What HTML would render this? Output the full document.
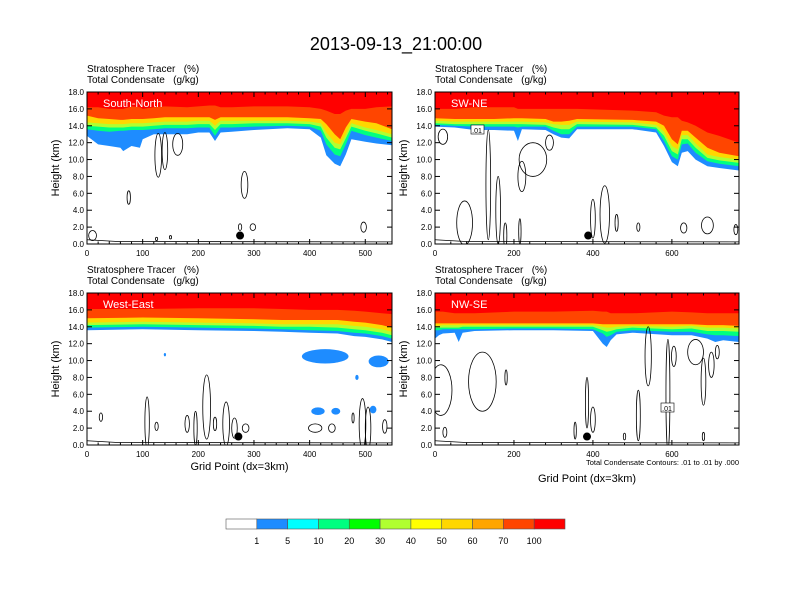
<!DOCTYPE html>
<html><head><meta charset="utf-8">
<style>
body{margin:0;background:#fff;}
svg{display:block;font-family:"Liberation Sans",Arial,sans-serif;}
</style></head>
<body>
<svg id="chart" width="792" height="612" viewBox="0 0 792 612">
<rect width="792" height="612" fill="#fff"/>
<text x="396" y="50" font-size="18" text-anchor="middle">2013-09-13_21:00:00</text>
</svg>
<script>
// ---------- data ----------
const levelColors = ["#1E8CFF","#00FF80","#B0FF30","#FFD700","#FF4500","#FF0000"];
const cbLabels = ["1","5","10","20","30","40","50","60","70","100"];
const cbColors = ["#FFFFFF","#1E8CFF","#00FFFF","#00FF80","#00FF00","#B0FF30","#FFFF00","#FFD700","#FFA500","#FF4500","#FF0000"];
const yTicks = [0,2,4,6,8,10,12,14,16,18];

// Panel 1: South-North
const p1x    = [0,20,40,60,65,80,95,100,120,140,180,200,220,230,240,260,300,360,400,420,430,445,455,465,475,500,520,548];
const p1b1   = [12.8,11.8,11.6,11.4,11.0,11.6,11.4,12.4,13.0,13.0,13.0,13.2,13.2,12.2,13.2,13.3,13.5,13.7,13.6,12.6,10.5,9.5,9.2,10.6,12.4,12.1,11.9,11.7];
const p1b10  = [13.6,13.4,13.3,13.4,13.4,13.5,13.5,13.5,13.6,13.7,13.7,13.8,13.8,12.8,13.8,13.8,13.9,14.0,13.9,13.4,11.8,10.6,10.4,11.8,13.4,12.9,12.6,12.2];
const p1b30  = [14.0,13.9,13.8,13.8,13.8,13.9,13.9,13.9,14.0,14.1,14.1,14.2,14.2,13.5,14.2,14.2,14.3,14.3,14.2,13.9,12.6,11.4,11.2,12.5,13.9,13.4,13.1,12.6];
const p1b50  = [14.4,14.3,14.2,14.2,14.2,14.3,14.3,14.3,14.4,14.5,14.5,14.6,14.6,14.0,14.6,14.6,14.6,14.6,14.5,14.3,13.2,12.0,11.8,13.0,14.3,13.8,13.5,13.0];
const p1b70  = [15.2,14.9,14.8,14.7,14.7,14.8,14.8,14.8,14.9,15.0,15.0,15.0,15.0,14.7,15.0,15.0,15.0,15.0,14.9,14.8,14.2,13.0,12.4,13.8,14.8,14.5,14.3,13.6];
const p1b100 = [16.2,16.2,16.0,16.0,16.0,16.3,16.2,16.0,16.2,16.3,16.2,16.3,16.4,16.4,16.2,16.2,16.3,16.3,16.2,16.0,15.8,15.4,15.4,15.8,16.0,16.0,16.2,16.3];

// Panel 2: SW-NE
const p2x    = [0,50,100,150,200,210,220,280,300,320,340,360,500,560,580,600,615,625,640,660,690,720,770];
const p2b1   = [13.9,13.8,13.5,13.5,13.4,12.2,13.6,13.5,13.0,12.6,12.5,13.6,13.6,13.2,11.6,9.7,9.2,10.8,11.0,10.0,9.2,9.0,8.7];
const p2b10  = [14.1,14.0,13.9,13.9,13.9,13.8,13.9,13.9,13.4,13.0,13.0,13.9,13.9,13.6,12.2,10.4,10.0,11.8,11.9,10.8,9.8,9.5,9.2];
const p2b30  = [14.3,14.2,14.2,14.2,14.2,14.2,14.2,14.1,13.8,13.6,13.6,14.2,14.1,13.8,12.8,11.0,10.6,12.4,12.4,11.4,10.2,9.9,9.6];
const p2b50  = [14.6,14.5,14.5,14.5,14.5,14.5,14.5,14.4,14.2,14.1,14.1,14.5,14.4,14.1,13.3,11.6,11.2,12.9,12.9,11.9,10.6,10.3,10.0];
const p2b70  = [14.9,14.8,14.8,14.8,14.9,14.9,14.9,14.8,14.5,14.5,14.6,14.8,14.7,14.5,14.0,12.4,11.8,13.4,13.4,12.6,11.4,10.8,10.4];
const p2b100 = [16.0,16.0,16.2,16.2,16.2,16.0,16.0,16.0,16.0,16.0,16.0,16.0,15.8,15.6,15.2,15.0,15.0,14.6,14.4,14.0,13.2,12.8,12.0];

// Panel 3: West-East
const p3x    = [0,100,200,300,350,400,450,480,500,530,548];
const p3b1   = [13.6,13.7,13.6,13.5,13.4,13.3,13.2,12.9,12.8,12.5,12.2];
const p3b10  = [13.9,14.0,13.9,13.8,13.7,13.6,13.5,13.3,13.2,12.9,12.6];
const p3b30  = [14.2,14.3,14.2,14.1,14.0,14.0,13.9,13.7,13.6,13.3,13.0];
const p3b50  = [14.5,14.6,14.5,14.4,14.3,14.3,14.3,14.1,14.0,13.7,13.4];
const p3b70  = [15.0,15.1,15.0,14.9,14.8,14.8,14.8,14.6,14.5,14.2,13.9];
const p3b100 = [16.1,16.1,16.2,16.2,16.1,16.0,16.0,15.9,15.8,15.6,15.5];

// Panel 4: NW-SE
const p4x    = [0,10,20,50,60,70,100,200,300,400,425,435,445,460,500,600,650,690,710,730,770];
const p4b1   = [12.6,13.0,13.2,13.3,12.2,13.3,13.5,13.6,13.6,13.5,12.0,11.6,12.4,13.1,13.3,13.0,13.0,12.6,12.2,12.4,12.2];
const p4b10  = [13.6,13.6,13.7,13.7,13.7,13.7,13.7,13.8,13.8,13.7,13.2,12.8,13.0,13.4,13.6,13.4,13.4,13.1,13.0,13.0,12.9];
const p4b30  = [13.9,13.9,13.9,13.9,13.9,14.0,14.0,14.0,14.0,14.0,13.6,13.4,13.5,13.7,13.9,13.7,13.8,13.5,13.5,13.5,13.4];
const p4b50  = [14.1,14.1,14.2,14.2,14.2,14.2,14.2,14.2,14.2,14.2,14.0,13.9,13.9,14.0,14.1,14.0,14.1,13.9,13.9,13.9,13.8];
const p4b70  = [14.4,14.4,14.4,14.4,14.4,14.4,14.4,14.4,14.4,14.4,14.3,14.3,14.3,14.3,14.3,14.3,14.3,14.2,14.2,14.2,14.1];
const p4b100 = [15.8,15.8,15.8,15.6,15.6,15.6,15.6,15.8,15.8,15.9,15.8,15.8,15.6,15.6,15.6,15.8,15.7,15.6,15.6,15.6,15.6];

// blue tracer blobs [x, km, rx, ry]
const p3blobs = [[428,10.5,42,0.85],[524,9.9,18,0.7],[415,4.0,12,0.45],[447,4.0,8,0.4],[514,4.2,6,0.45],[140,10.7,2,0.2],[485,8.0,3,0.3]];

// condensate contour ellipses [x, km, rx, ry]
const p1cont = [[128,10.5,6,2.6],[140,11.0,5,2.2],[163,11.8,9,1.3],[75,5.5,3,0.8],[283,7.0,6,1.6],[275,2.0,3,0.4],[298,2.0,5,0.4],[497,2.0,5,0.6],[10,1.0,7,0.6],[125,0.6,2,0.2],[150,0.8,2,0.2]];
const p2cont = [[20,12.7,12,0.9],[75,2.5,20,2.6],[135,7.0,6,6.5],[160,4.0,6,4.0],[248,10.0,35,2.0],[220,8.0,10,1.8],[290,12.0,10,0.9],[178,1.0,4,1.5],[215,1.5,3,1.5],[400,3.0,6,2.3],[430,3.5,12,3.4],[460,2.5,4,1.0],[515,2.0,4,0.5],[630,1.9,8,0.6],[690,2.2,15,1.0],[762,1.7,5,0.6]];
const p4cont = [[15,6.5,28,3.0],[120,7.5,35,3.5],[180,8.0,3,0.9],[385,5.0,4,3.0],[355,1.7,3,1.0],[400,3.0,6,1.5],[515,3.5,5,3.0],[540,10.5,8,3.5],[590,6.0,5,6.5],[605,10.5,6,1.2],[660,11.0,20,1.5],[700,9.5,7,1.5],[715,11.0,5,0.8],[680,7.5,6,2.8],[25,1.5,5,0.6],[480,1.0,3,0.4],[680,1.0,3,0.5]];
const p3cont = [[25,3.3,3,0.5],[108,2.7,4,3.0],[125,2.2,3,0.5],[180,2.5,4,1.0],[195,2.0,3,2.0],[215,4.5,7,3.8],[230,2.5,3,0.8],[250,2.5,6,2.6],[265,2.0,5,1.2],[285,2.0,6,0.5],[410,2.0,12,0.5],[440,2.0,6,0.5],[495,2.5,6,3.0],[505,2.0,5,2.5],[478,3.2,2,0.6],[535,2.2,4,0.8]];

const panels = [
 {name:"south-north",label:"South-North",x0:87,y0:92,w:305,h:152,xmax:548,xt:[0,100,200,300,400,500],xs:p1x,lv:[p1b1,p1b10,p1b30,p1b50,p1b70,p1b100],blobs:[],cont:p1cont,dot:275,xlab:false},
 {name:"sw-ne",label:"SW-NE",x0:435,y0:92,w:304,h:152,xmax:770,xt:[0,200,400,600],xs:p2x,lv:[p2b1,p2b10,p2b30,p2b50,p2b70,p2b100],blobs:[],cont:p2cont,dot:388,xlab:false},
 {name:"west-east",label:"West-East",x0:87,y0:293,w:305,h:152,xmax:548,xt:[0,100,200,300,400,500],xs:p3x,lv:[p3b1,p3b10,p3b30,p3b50,p3b70,p3b100],blobs:p3blobs,cont:p3cont,dot:272,xlab:true},
 {name:"nw-se",label:"NW-SE",x0:435,y0:293,w:304,h:152,xmax:770,xt:[0,200,400,600],xs:p4x,lv:[p4b1,p4b10,p4b30,p4b50,p4b70,p4b100],blobs:[],cont:p4cont,dot:385,xlab:true}
];

const NS="http://www.w3.org/2000/svg";
const svg=document.getElementById("chart");
function mk(tag,attrs,parent){const e=document.createElementNS(NS,tag);for(const k in attrs)e.setAttribute(k,attrs[k]);(parent||svg).appendChild(e);return e;}

panels.forEach((p,pi)=>{
  const g=mk("g",{});
  
  
  const X=v=>p.x0+v/p.xmax*p.w;
  const Y=v=>p.y0+p.h-v/18*p.h;
  const cid="clip"+pi;
  const cp=mk("clipPath",{id:cid},g);mk("rect",{x:p.x0,y:p.y0,width:p.w,height:p.h},cp);
  const fg=mk("g",{"clip-path":"url(#"+cid+")"},g);
  p.lv.forEach((arr,li)=>{
    let d="M"+X(p.xs[0])+","+Y(18);
    p.xs.forEach((x,i)=>{d+=" L"+X(x).toFixed(1)+","+Y(arr[i]).toFixed(1);});
    d+=" L"+X(p.xs[p.xs.length-1])+","+Y(18)+"Z";
    const path=mk("path",{d:d,fill:levelColors[li]},fg);
    
    
  });
  p.blobs.forEach(b=>{
    const e=mk("ellipse",{cx:X(b[0]),cy:Y(b[1]),rx:b[2]/p.xmax*p.w,ry:b[3]/18*p.h,fill:"#1E8CFF"},fg);
    
    
  });
  p.cont.forEach(c=>{
    const e=mk("ellipse",{cx:X(c[0]),cy:Y(c[1]),rx:c[2]/p.xmax*p.w,ry:c[3]/18*p.h,fill:"none",stroke:"#000","stroke-width":0.8},fg);
    
    
  });
  const sl=mk("path",{d:"M"+X(0)+","+Y(0.5)+" L"+X(p.xmax*0.1)+","+Y(0.3)+" L"+X(p.xmax)+","+Y(0.25),fill:"none",stroke:"#000","stroke-width":0.8},fg);
  
  
  const dot=mk("circle",{cx:X(p.dot),cy:Y(1.0),r:4,fill:"#000"},g);
  
  
  const fr=mk("rect",{x:p.x0,y:p.y0,width:p.w,height:p.h,fill:"none",stroke:"#000","stroke-width":1},g);
  
  
  yTicks.forEach(t=>{
    mk("line",{x1:p.x0,x2:p.x0+5,y1:Y(t),y2:Y(t),stroke:"#000"},g);
    mk("line",{x1:p.x0+p.w,x2:p.x0+p.w-5,y1:Y(t),y2:Y(t),stroke:"#000"},g);
    const tl=mk("text",{x:p.x0-3,y:Y(t)+3,"font-size":8,"text-anchor":"end"},g);
    tl.textContent=t.toFixed(1);
    
    
  });
  const step=p.xt[1]/5;
  for(let v=0;v<=p.xmax;v+=step){
    const major=p.xt.indexOf(v)>=0;
    mk("line",{x1:X(v),x2:X(v),y1:Y(0),y2:Y(0)-(major?5:2.5),stroke:"#000"},g);
    mk("line",{x1:X(v),x2:X(v),y1:Y(18),y2:Y(18)+(major?5:2.5),stroke:"#000"},g);
  }
  p.xt.forEach(t=>{
    const tl=mk("text",{x:X(t),y:Y(0)+12,"font-size":8,"text-anchor":"middle"},g);
    tl.textContent=t;
    
    
  });
  const t1=mk("text",{x:p.x0,y:p.y0-20,"font-size":10},g);
  t1.setAttributeNS("http://www.w3.org/XML/1998/namespace","xml:space","preserve");
  t1.textContent="Stratosphere Tracer   (%)";
  
  
  const t2=mk("text",{x:p.x0,y:p.y0-9,"font-size":10},g);
  t2.setAttributeNS("http://www.w3.org/XML/1998/namespace","xml:space","preserve");
  t2.textContent="Total Condensate   (g/kg)";
  
  
  const pl=mk("text",{x:p.x0+16,y:p.y0+15,"font-size":11,fill:"#fff"},g);
  pl.textContent=p.label;
  
  
  const yl=mk("text",{x:0,y:0,"font-size":11,"text-anchor":"middle",transform:"translate("+(p.x0-28)+","+(p.y0+p.h/2)+") rotate(-90)"},g);
  yl.textContent="Height (km)";
  
  
  if(p.xlab){
    const xl=mk("text",{x:p.x0+p.w/2,y:p.name==="nw-se"?482:470,"font-size":11,"text-anchor":"middle"},g);
    xl.textContent="Grid Point (dx=3km)";
    
    
  }
});
[[477,130],[667,408]].forEach(q=>{
  const g=mk("g",{});
  
  
  mk("rect",{x:q[0]-6,y:q[1]-5,width:13,height:9,fill:"#fff",stroke:"#000","stroke-width":0.6},g);
  const t=mk("text",{x:q[0],y:q[1]+3,"font-size":7,"text-anchor":"middle"},g);t.textContent=".01";
});
const note=mk("text",{x:739,y:465,"font-size":7.5,"text-anchor":"end"});
note.textContent="Total Condensate Contours: .01 to .01 by .000";


const cbw=(565-226)/cbColors.length;
const cb=mk("g",{});


cbColors.forEach((c,i)=>{
  const r=mk("rect",{x:226+i*cbw,y:519,width:cbw,height:10,fill:c,stroke:"#555","stroke-width":0.6},cb);
  
  
});
cbLabels.forEach((l,i)=>{
  const t=mk("text",{x:226+(i+1)*cbw,y:544,"font-size":9,"text-anchor":"middle"},cb);
  t.textContent=l;
  
  
});
</script>
</body></html>
